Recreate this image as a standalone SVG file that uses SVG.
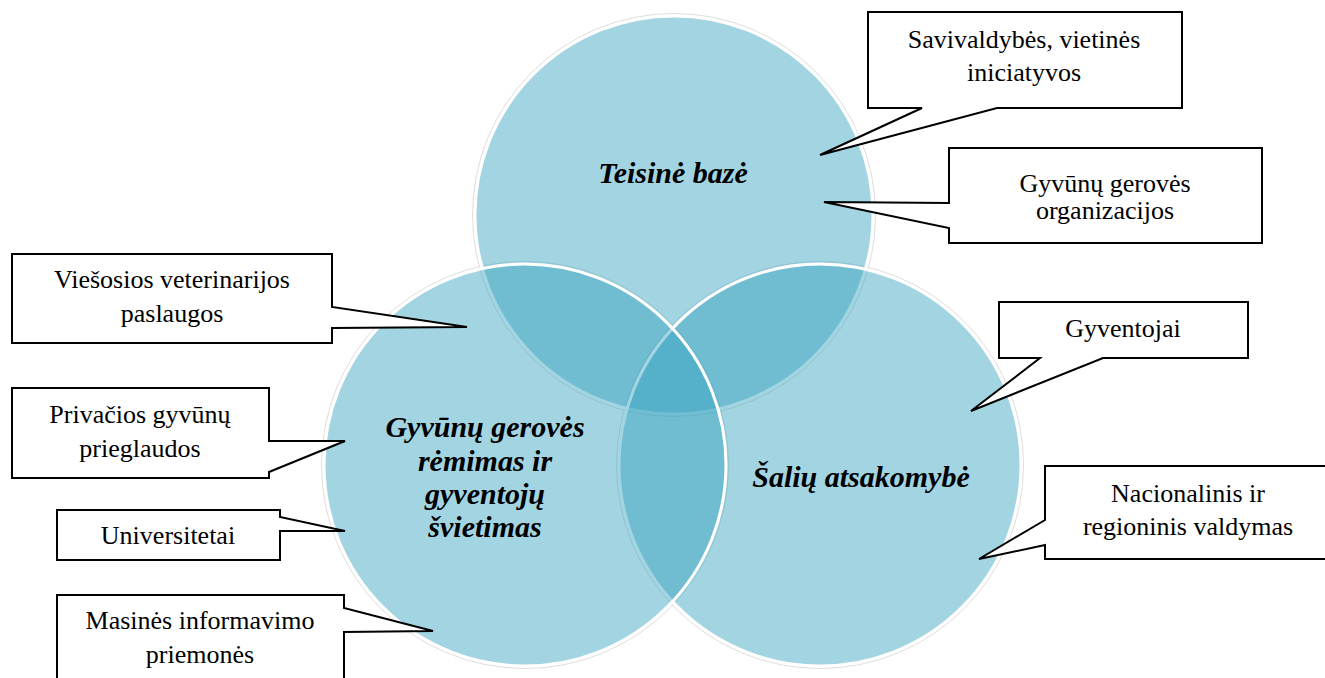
<svg xmlns="http://www.w3.org/2000/svg" width="1325" height="678" viewBox="0 0 1325 678">
<style>
.ring{fill:none;stroke:#cfcfcf;stroke-width:1;opacity:0.7}
.circ{fill:rgb(54,162,192);fill-opacity:0.462;stroke:#ffffff;stroke-width:3}
.lbl{font-family:"Liberation Serif","Times New Roman",serif;font-size:30px;font-style:italic;font-weight:bold;fill:#000;text-anchor:middle}
.box{fill:#ffffff;stroke:#000000;stroke-width:2;stroke-linejoin:miter}
.txt{font-family:"Liberation Serif","Times New Roman",serif;font-size:26px;fill:#000;text-anchor:middle}
</style>
<rect width="1325" height="678" fill="#ffffff"/>
<g id="venn-rings">
<circle class="ring" cx="674" cy="215" r="201.5"/>
<circle class="ring" cx="820" cy="465" r="203.5"/>
<circle class="ring" cx="525" cy="465" r="203.5"/>
</g>
<g id="circle-teisine">
<circle class="circ" cx="674" cy="215" r="199"/>
</g>
<g id="circle-saliu">
<circle class="circ" cx="820" cy="465" r="201"/>
</g>
<g id="circle-gyvunu">
<circle class="circ" cx="525" cy="465" r="201"/>
</g>
<g id="labels">
<text class="lbl" x="673" y="183">Teisinė bazė</text>
<text class="lbl" x="861" y="487">Šalių atsakomybė</text>
<text class="lbl" x="485" y="437">Gyvūnų gerovės</text>
<text class="lbl" x="485" y="471">rėmimas ir</text>
<text class="lbl" x="485" y="504">gyventojų</text>
<text class="lbl" x="485" y="537">švietimas</text>
</g>
<g id="connectors"></g>
<g id="callout-savivaldybes">
<path class="box" d="M868,12 H1182 V108 H997 L820,155 L922,108 H868 Z"/>
<text class="txt" x="1024" y="48">Savivaldybės, vietinės</text>
<text class="txt" x="1024" y="81">iniciatyvos</text>
</g>
<g id="callout-organizacijos">
<path class="box" d="M949,148 H1262 V243 H949 V228 L824,202 L949,203 Z"/>
<text class="txt" x="1105" y="192">Gyvūnų gerovės</text>
<text class="txt" x="1105" y="219">organizacijos</text>
</g>
<g id="callout-veterinarijos">
<path class="box" d="M12,254 H332 V307 L467,327 L332,328 V343 H12 Z"/>
<text class="txt" x="172" y="288">Viešosios veterinarijos</text>
<text class="txt" x="172" y="322">paslaugos</text>
</g>
<g id="callout-prieglaudos">
<path class="box" d="M12,388 H269 V441 L345,441 L269,472 V478 H12 Z"/>
<text class="txt" x="140" y="423">Privačios gyvūnų</text>
<text class="txt" x="140" y="457">prieglaudos</text>
</g>
<g id="callout-universitetai">
<path class="box" d="M57,510 H280 V517 L345,531 L280,531 V560 H57 Z"/>
<text class="txt" x="168" y="544">Universitetai</text>
</g>
<g id="callout-masines">
<path class="box" d="M57,595 H344 V608 L433,631 L344,632 V690 H57 Z"/>
<text class="txt" x="200" y="629">Masinės informavimo</text>
<text class="txt" x="200" y="663">priemonės</text>
</g>
<g id="callout-gyventojai">
<path class="box" d="M999,302 H1248 V358 H1103 L971,411 L1040,358 H999 Z"/>
<text class="txt" x="1123" y="337">Gyventojai</text>
</g>
<g id="callout-valdymas">
<path class="box" d="M1045,466 H1335 V559 H1045 V545 L979,559 L1045,520 Z"/>
<text class="txt" x="1188" y="502">Nacionalinis ir</text>
<text class="txt" x="1188" y="535">regioninis valdymas</text>
</g>
</svg>
